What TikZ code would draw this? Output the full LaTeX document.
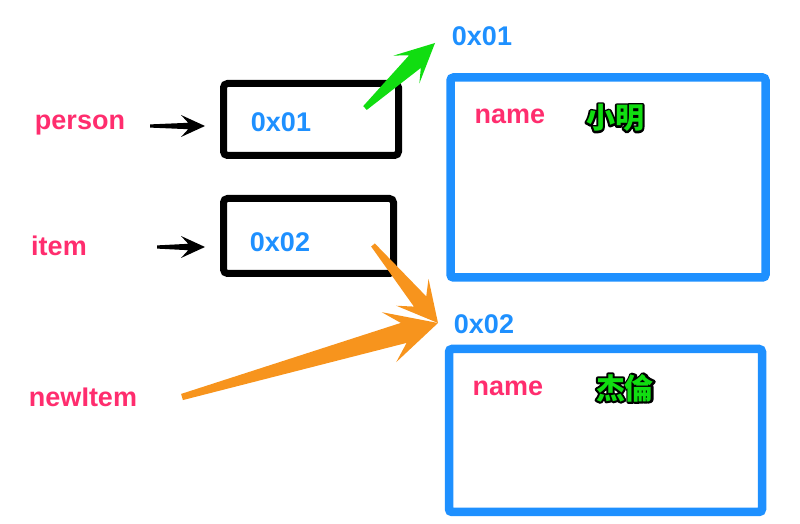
\documentclass[tikz,border=0pt]{standalone}
\usepackage{fontspec}
\setmainfont{Liberation Sans}
\newfontfamily\cjk{Noto Sans CJK TC}
\usetikzlibrary{calc}

\definecolor{varpink}{RGB}{255,45,110}
\definecolor{addrblue}{RGB}{30,144,255}
\definecolor{arrgreen}{RGB}{17,221,17}
\definecolor{arrorange}{RGB}{247,148,29}

\newcommand{\lblfont}{\fontsize{13.5}{16}\selectfont\bfseries}
% green glyphs on a black rim: stroked copy behind, filled copy in front
\newcommand{\rimtext}[1]{\rlap{\special{pdf:literal direct 1 Tr 2 w 1 j 0 0 0 RG}#1\special{pdf:literal direct 0 Tr}}#1}

% tapered arrow: from, to, colour, tail half width, shaft half width, head length, head half width
\newcommand{\taper}[7]{%
  \coordinate (#1h) at ($(#2)!#6!(#1)$);
  \coordinate (#1i) at ($(#2)!0.7*#6!(#1)$);
  \fill[#3] ($(#1)!#4!90:(#2)$) -- ($(#1i)!#5!90:(#2)$) -- ($(#1h)!#7!90:(#2)$) -- (#2)
    -- ($(#1h)!#7!-90:(#2)$) -- ($(#1i)!#5!-90:(#2)$) -- ($(#1)!#4!-90:(#2)$) -- cycle;
}

\begin{document}
\begin{tikzpicture}[x=0.5pt,y=-0.5pt,
    varname/.style={text=varpink,font=\lblfont,inner sep=0pt},
    addr/.style={text=addrblue,font=\lblfont,inner sep=0pt},
    refbox/.style={draw=black,line width=3.5pt,rounded corners=2pt,inner sep=0pt},
    objbox/.style={draw=addrblue,line width=4.25pt,rounded corners=1.5pt,inner sep=0pt},
    cjktext/.style={text=arrgreen,font=\cjk\fontsize{14.5}{17}\selectfont\bfseries,inner sep=0pt}]
  \useasboundingbox (0,0) rectangle (800,524);

  % variables
  \node[varname] (person) at (80,125) {person};
  \node[varname] (item) at (59,246) {item};
  \node[varname] (newitem) at (83,397) {newItem};

  % references
  \node[refbox,minimum width=87.5pt,minimum height=36pt] (ref1) at (311,119.5) {};
  \node[refbox,minimum width=85pt,minimum height=37.5pt] (ref2) at (308.5,236) {};
  \node[addr] (val1) at (281,122) {0x01};
  \node[addr] (val2) at (280,242) {0x02};

  % objects
  \node[objbox,minimum width=157.5pt,minimum height=100pt] (obj1) at (608,177.5) {};
  \node[objbox,minimum width=156.5pt,minimum height=81.5pt] (obj2) at (605.5,430.5) {};
  \node[addr] (adr1) at (482,36) {0x01};
  \node[addr] (adr2) at (484,324) {0x02};
  \node[varname] (key1) at (510,116) {name};
  \node[varname] (key2) at (508,388) {name};
  \node[cjktext] (val3) at (615,118) {\rimtext{小明}};
  \node[cjktext] (val4) at (625,388) {\rimtext{杰倫}};

  % arrows
  \coordinate (pa) at (150,126);
  \coordinate (pb) at ([xshift=-7.5pt]ref1.west |- pa);
  \coordinate (ia) at (157,247);
  \coordinate (ib) at ([xshift=-7.5pt]ref2.west |- ia);
  \taper{pa}{pb}{black}{0.8pt}{1.6pt}{12pt}{5.5pt}
  \taper{ia}{ib}{black}{0.8pt}{1.6pt}{12pt}{5.5pt}

  \coordinate (ga) at (365,108);
  \coordinate (gb) at (435,43);
  \taper{ga}{gb}{arrgreen}{1.3pt}{4.3pt}{19.5pt}{9.5pt}

  \coordinate (oa) at (373,245);
  \coordinate (ob) at (182,397);
  \coordinate (ot) at (438,323);
  \taper{oa}{ot}{arrorange}{1.2pt}{4pt}{20pt}{10.5pt}
  \taper{ob}{ot}{arrorange}{1.6pt}{5.2pt}{25.5pt}{13pt}
\end{tikzpicture}
\end{document}
